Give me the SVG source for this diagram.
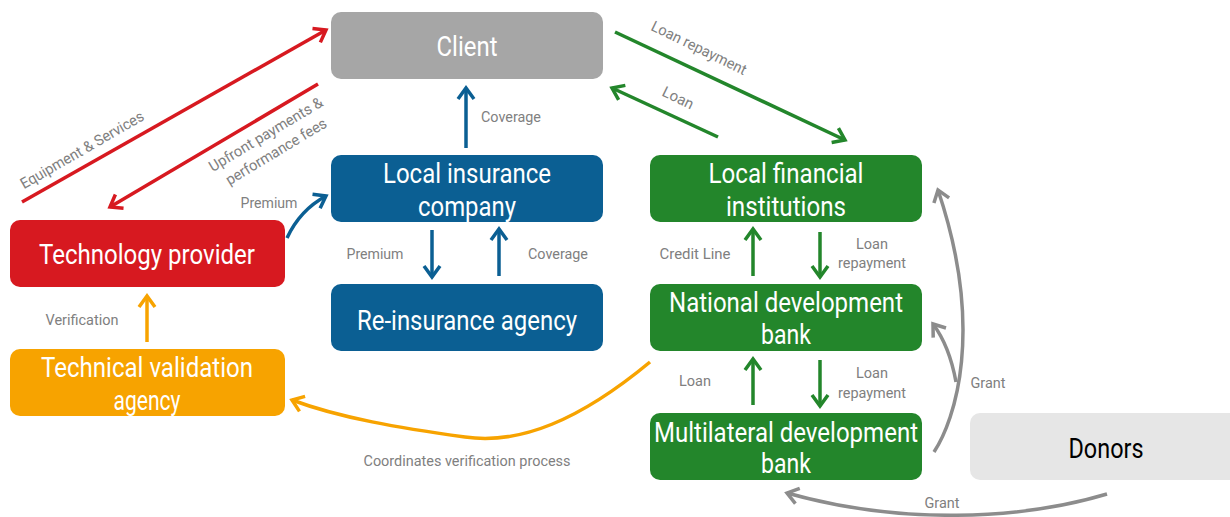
<svg xmlns="http://www.w3.org/2000/svg" width="1230" height="517" viewBox="0 0 1230 517">
<style>
.nt{font-family:Roboto,"Liberation Sans",sans-serif;font-size:27px;fill:#fff;text-anchor:middle}
.lb{font-family:Roboto,"Liberation Sans",sans-serif;font-size:15px;fill:#808080;text-anchor:middle}
.c{fill:none;stroke-width:3.5;stroke-linecap:butt}
</style>
<defs>
<marker id="mr" viewBox="0 0 20 20" refX="16" refY="10" markerWidth="20" markerHeight="20" markerUnits="userSpaceOnUse" orient="auto"><path d="M5,2 L16,10 L5,18" fill="none" stroke="#d71920" stroke-width="3.5"/></marker>
<marker id="mb" viewBox="0 0 20 20" refX="16" refY="10" markerWidth="20" markerHeight="20" markerUnits="userSpaceOnUse" orient="auto"><path d="M5,2 L16,10 L5,18" fill="none" stroke="#0b5f93" stroke-width="3.5"/></marker>
<marker id="mg" viewBox="0 0 20 20" refX="16" refY="10" markerWidth="20" markerHeight="20" markerUnits="userSpaceOnUse" orient="auto"><path d="M5,2 L16,10 L5,18" fill="none" stroke="#23862b" stroke-width="3.5"/></marker>
<marker id="mo" viewBox="0 0 20 20" refX="16" refY="10" markerWidth="20" markerHeight="20" markerUnits="userSpaceOnUse" orient="auto"><path d="M5,2 L16,10 L5,18" fill="none" stroke="#f7a300" stroke-width="3.5"/></marker>
<marker id="mx" viewBox="0 0 20 20" refX="16" refY="10" markerWidth="20" markerHeight="20" markerUnits="userSpaceOnUse" orient="auto"><path d="M5,2 L16,10 L5,18" fill="none" stroke="#8c8c8c" stroke-width="3.5"/></marker>
</defs>
<rect width="1230" height="517" fill="#fff"/>

<g id="connectors">
<path class="c" d="M22,202 L326,30" stroke="#d71920" marker-end="url(#mr)"/>
<path class="c" d="M318,84 L110,207" stroke="#d71920" marker-end="url(#mr)"/>
<path class="c" d="M615,32 L845,140" stroke="#23862b" marker-end="url(#mg)"/>
<path class="c" d="M718,137 L612,88" stroke="#23862b" marker-end="url(#mg)"/>
<path class="c" d="M466,148 L466,88" stroke="#0b5f93" marker-end="url(#mb)"/>
<path class="c" d="M287,238 Q300,210 326,196" stroke="#0b5f93" marker-end="url(#mb)"/>
<path class="c" d="M432,230 L432,277" stroke="#0b5f93" marker-end="url(#mb)"/>
<path class="c" d="M499,276 L499,229" stroke="#0b5f93" marker-end="url(#mb)"/>
<path class="c" d="M147,342 L147,296" stroke="#f7a300" marker-end="url(#mo)"/>
<path class="c" d="M650,362 C580,420 520,445 465,437 C400,428 340,418 292,400" stroke="#f7a300" marker-end="url(#mo)"/>
<path class="c" d="M753,276 L753,229" stroke="#23862b" marker-end="url(#mg)"/>
<path class="c" d="M820,232 L820,277" stroke="#23862b" marker-end="url(#mg)"/>
<path class="c" d="M753,405 L753,359" stroke="#23862b" marker-end="url(#mg)"/>
<path class="c" d="M820,360 L820,406" stroke="#23862b" marker-end="url(#mg)"/>
<path class="c" d="M934,452 C955,420 985,330 938,190" stroke="#8c8c8c" marker-end="url(#mx)"/>
<path class="c" d="M956,382 C952,360 945,340 933,324" stroke="#8c8c8c" marker-end="url(#mx)"/>
<path class="c" d="M1107,494 C1020,520 900,525 787,493" stroke="#8c8c8c" marker-end="url(#mx)"/>
</g>

<g id="labels">
<text class="lb" x="511" y="122" textLength="60" lengthAdjust="spacingAndGlyphs">Coverage</text>
<text class="lb" x="269" y="208" textLength="57" lengthAdjust="spacingAndGlyphs">Premium</text>
<text class="lb" x="375" y="259" textLength="57" lengthAdjust="spacingAndGlyphs">Premium</text>
<text class="lb" x="558" y="259" textLength="60" lengthAdjust="spacingAndGlyphs">Coverage</text>
<text class="lb" x="82" y="325" textLength="73" lengthAdjust="spacingAndGlyphs">Verification</text>
<text class="lb" x="695" y="259" textLength="71" lengthAdjust="spacingAndGlyphs">Credit Line</text>
<text class="lb" x="872" y="249" textLength="32" lengthAdjust="spacingAndGlyphs">Loan</text>
<text class="lb" x="872" y="268" textLength="68" lengthAdjust="spacingAndGlyphs">repayment</text>
<text class="lb" x="695" y="386" textLength="32" lengthAdjust="spacingAndGlyphs">Loan</text>
<text class="lb" x="872" y="378" textLength="32" lengthAdjust="spacingAndGlyphs">Loan</text>
<text class="lb" x="872" y="398" textLength="68" lengthAdjust="spacingAndGlyphs">repayment</text>
<text class="lb" x="988" y="388" textLength="35" lengthAdjust="spacingAndGlyphs">Grant</text>
<text class="lb" x="942" y="508" textLength="35" lengthAdjust="spacingAndGlyphs">Grant</text>
<text class="lb" x="467" y="466" textLength="207" lengthAdjust="spacingAndGlyphs">Coordinates verification process</text>
<text class="lb" transform="translate(82,150) rotate(-30)" y="5" textLength="140" lengthAdjust="spacingAndGlyphs">Equipment &amp; Services</text>
<text class="lb" transform="translate(271,143) rotate(-31)"><tspan x="0" y="-5" textLength="130" lengthAdjust="spacingAndGlyphs">Upfront payments &amp;</tspan><tspan x="0" y="15" textLength="115" lengthAdjust="spacingAndGlyphs">performance fees</tspan></text>
<text class="lb" transform="translate(699,48) rotate(26)" y="5" textLength="104" lengthAdjust="spacingAndGlyphs">Loan repayment</text>
<text class="lb" transform="translate(678,98) rotate(26)" y="5" textLength="33" lengthAdjust="spacingAndGlyphs">Loan</text>
</g>

<g id="client"><rect x="331" y="12" width="272" height="67" rx="10" fill="#a6a6a6"/><text class="nt" x="467" y="56" textLength="61" lengthAdjust="spacingAndGlyphs">Client</text></g>
<g id="local-insurance"><rect x="331" y="155" width="272" height="67" rx="10" fill="#0b5f93"/><text class="nt" x="467" y="183" textLength="168" lengthAdjust="spacingAndGlyphs">Local insurance</text><text class="nt" x="467" y="216" textLength="98" lengthAdjust="spacingAndGlyphs">company</text></g>
<g id="reinsurance"><rect x="331" y="284" width="272" height="67" rx="10" fill="#0b5f93"/><text class="nt" x="467" y="330" textLength="220" lengthAdjust="spacingAndGlyphs">Re-insurance agency</text></g>
<g id="tech-provider"><rect x="10" y="220" width="275" height="67" rx="10" fill="#d71920"/><text class="nt" x="147" y="264" textLength="216" lengthAdjust="spacingAndGlyphs">Technology provider</text></g>
<g id="tech-validation"><rect x="10" y="349" width="275" height="67" rx="10" fill="#f7a300"/><text class="nt" x="147" y="377" textLength="212" lengthAdjust="spacingAndGlyphs">Technical validation</text><text class="nt" x="147" y="410" textLength="67" lengthAdjust="spacingAndGlyphs">agency</text></g>
<g id="local-financial"><rect x="650" y="155" width="272" height="67" rx="10" fill="#23862b"/><text class="nt" x="786" y="183" textLength="155" lengthAdjust="spacingAndGlyphs">Local financial</text><text class="nt" x="786" y="216" textLength="120" lengthAdjust="spacingAndGlyphs">institutions</text></g>
<g id="national-bank"><rect x="650" y="284" width="272" height="67" rx="10" fill="#23862b"/><text class="nt" x="786" y="312" textLength="234" lengthAdjust="spacingAndGlyphs">National development</text><text class="nt" x="786" y="344" textLength="50" lengthAdjust="spacingAndGlyphs">bank</text></g>
<g id="multilateral-bank"><rect x="650" y="413" width="272" height="67" rx="10" fill="#23862b"/><text class="nt" x="786" y="442" textLength="264" lengthAdjust="spacingAndGlyphs">Multilateral development</text><text class="nt" x="786" y="473" textLength="50" lengthAdjust="spacingAndGlyphs">bank</text></g>
<g id="donors"><rect x="970" y="413" width="270" height="67" rx="10" fill="#e6e6e6"/><text class="nt" x="1106" y="458" textLength="75" lengthAdjust="spacingAndGlyphs" style="fill:#000">Donors</text></g>
</svg>
